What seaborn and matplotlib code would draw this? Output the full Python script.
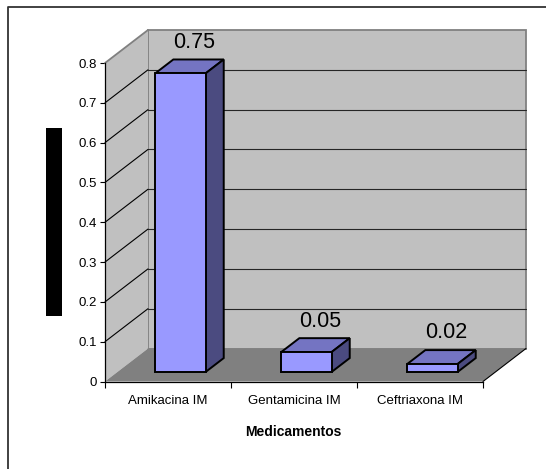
import matplotlib
matplotlib.use("Agg")
import matplotlib.pyplot as plt
from matplotlib.patches import Polygon, Rectangle
from matplotlib.lines import Line2D
import pandas as pd
import seaborn as sns

# Data
medicamentos = ["Amikacina IM", "Gentamicina IM", "Ceftriaxona IM"]
proporcion = [0.75, 0.05, 0.02]
y_ticks = [0.0, 0.1, 0.2, 0.3, 0.4, 0.5, 0.6, 0.7, 0.8]
y_tick_labels = ["0", "0.1", "0.2", "0.3", "0.4", "0.5", "0.6", "0.7", "0.8"]

# Colours
FRONT = "#9999FF"
TOP = "#7474C2"
SIDE = "#4B4B80"
WALL = "#C0C0C0"
FLOOR = "#808080"
WALL_EDGE = "#808080"
GRID = "#262626"

sns.set_theme(style="white")
plt.rcParams["font.family"] = ["Liberation Sans", "DejaVu Sans"]
plt.rcParams["text.color"] = "black"
plt.rcParams["xtick.color"] = "black"
plt.rcParams["ytick.color"] = "black"

W, H = 546, 469
fig = plt.figure(figsize=(W / 100, H / 100), dpi=100, facecolor="white")
ax = fig.add_axes([105 / W, 87.5 / H, 378 / W, 318.5 / H])
ax.set_facecolor("none")

df = pd.DataFrame({"Medicamento": medicamentos, "Valor": proporcion})
sns.barplot(data=df, x="Medicamento", y="Valor", width=0.4, color=FRONT,
            saturation=1, edgecolor="black", linewidth=1.4, ax=ax)
ax.set_xlim(-0.5, 2.5)
ax.set_ylim(0, 0.8)

# Oblique depth direction of the 3-D box, in pixels, converted to data units
DEPTH_PX = (43.0, 33.0)
o = ax.transData.transform((0, 0))
ux = ax.transData.transform((1, 0))[0] - o[0]
uy = ax.transData.transform((0, 1))[1] - o[1]
ddx, ddy = DEPTH_PX[0] / ux, DEPTH_PX[1] / uy


def P(x, y, d):
    """Point (x, y) pushed back by depth fraction d."""
    return (x + d * ddx, y + d * ddy)


x0, x1 = -0.5, 2.5
ymax = y_ticks[-1]

# Walls and floor
ax.add_patch(Rectangle(P(x0, 0, 1), x1 - x0, ymax, facecolor=WALL,
                       edgecolor=WALL_EDGE, linewidth=1.3, zorder=0.5,
                       clip_on=False))
ax.add_patch(Polygon([P(x0, 0, 0), P(x0, ymax, 0), P(x0, ymax, 1), P(x0, 0, 1)],
                     closed=True, facecolor=WALL, edgecolor="none",
                     zorder=0.6, clip_on=False))
ax.add_patch(Polygon([P(x0, 0, 0), P(x1, 0, 0), P(x1, 0, 1), P(x0, 0, 1)],
                     closed=True, facecolor=FLOOR, edgecolor="none",
                     zorder=0.7, clip_on=False))
a, b = P(x0, ymax, 0), P(x0, ymax, 1)
ax.add_line(Line2D([a[0], b[0]], [a[1], b[1]], color=WALL_EDGE, lw=1.3,
                   zorder=0.8, clip_on=False))
a, b = P(x1, 0, 0), P(x1, 0, 1)
ax.add_line(Line2D([a[0], b[0]], [a[1], b[1]], color="black", lw=0.8,
                   zorder=0.8, clip_on=False))

# Gridlines on the back wall and the side wall
for t in y_ticks[1:-1]:
    a, b = P(x0, t, 1), P(x1, t, 1)
    ax.add_line(Line2D([a[0], b[0]], [a[1], b[1]], color=GRID, lw=0.8,
                       zorder=0.9, clip_on=False))
    a, b = P(x0, t, 0), P(x0, t, 1)
    ax.add_line(Line2D([a[0], b[0]], [a[1], b[1]], color="black", lw=0.8,
                       zorder=0.9, clip_on=False))

# Give each bar a top and a side face
F0, F1 = 0.29, 0.71
fd = F1 - F0
for patch, v in zip(ax.patches[:len(proporcion)], proporcion):
    patch.set_x(patch.get_x() + F0 * ddx)
    patch.set_y(patch.get_y() + F0 * ddy)
    patch.set_zorder(6)
    patch.set_clip_on(False)
    bx0 = patch.get_x()
    bx1 = bx0 + patch.get_width()
    by0 = patch.get_y()
    by1 = by0 + patch.get_height()
    sx, sy = fd * ddx, fd * ddy
    ax.add_patch(Polygon([(bx0, by1), (bx1, by1), (bx1 + sx, by1 + sy),
                          (bx0 + sx, by1 + sy)], closed=True, facecolor=TOP,
                         edgecolor="black", linewidth=1.4, zorder=5,
                         clip_on=False))
    ax.add_patch(Polygon([(bx1, by0), (bx1 + sx, by0 + sy), (bx1 + sx, by1 + sy),
                          (bx1, by1)], closed=True, facecolor=SIDE,
                         edgecolor="black", linewidth=1.4, zorder=5,
                         clip_on=False))

# Value labels
for i, v in enumerate(proporcion):
    ax.annotate(f"{v:.2f}", xy=P(i, v, F0), xytext=(14, 31),
                textcoords="offset pixels", ha="center", va="center",
                fontsize=15.5, color="black", zorder=7,
                annotation_clip=False)

# Axes, ticks and labels
for s in ["top", "right"]:
    ax.spines[s].set_visible(False)
for s in ["left", "bottom"]:
    ax.spines[s].set_color("black")
    ax.spines[s].set_linewidth(0.9)
    ax.spines[s].set_zorder(3)

ax.set_yticks(y_ticks, labels=y_tick_labels)
ax.set_xticks([-0.5, 0.5, 1.5, 2.5], labels=["", "", "", ""])
ax.set_xticks([0, 1, 2], labels=medicamentos, minor=True)
ax.tick_params(axis="y", which="major", left=True, direction="out",
               length=3.6, width=0.8, pad=2, labelsize=9.5)
ax.tick_params(axis="x", which="major", bottom=True, direction="out",
               length=4.3, width=0.8)
ax.tick_params(axis="x", which="minor", bottom=True, length=0, pad=9.5,
               labelsize=9.5)
ax.set_xlabel("")
ax.set_ylabel("")

fig.text(293.5 / W, 1 - 432.3 / H, "Medicamentos", ha="center", va="center",
         fontsize=10, fontweight="bold", color="black")

# Y-axis title block
fig.add_artist(Rectangle((46.3 / W, (H - 315.7) / H), 15.7 / W, 188 / H,
                         transform=fig.transFigure, facecolor="black",
                         edgecolor="none"))

# Chart-area frame
fig.add_artist(Line2D([7.5 / W, 7.5 / W, 1.0], [0.0, 1 - 7 / H, 1 - 7 / H],
                      transform=fig.transFigure, color="#333333", lw=1.3))

fig.savefig("out.png", dpi=100, facecolor="white")
